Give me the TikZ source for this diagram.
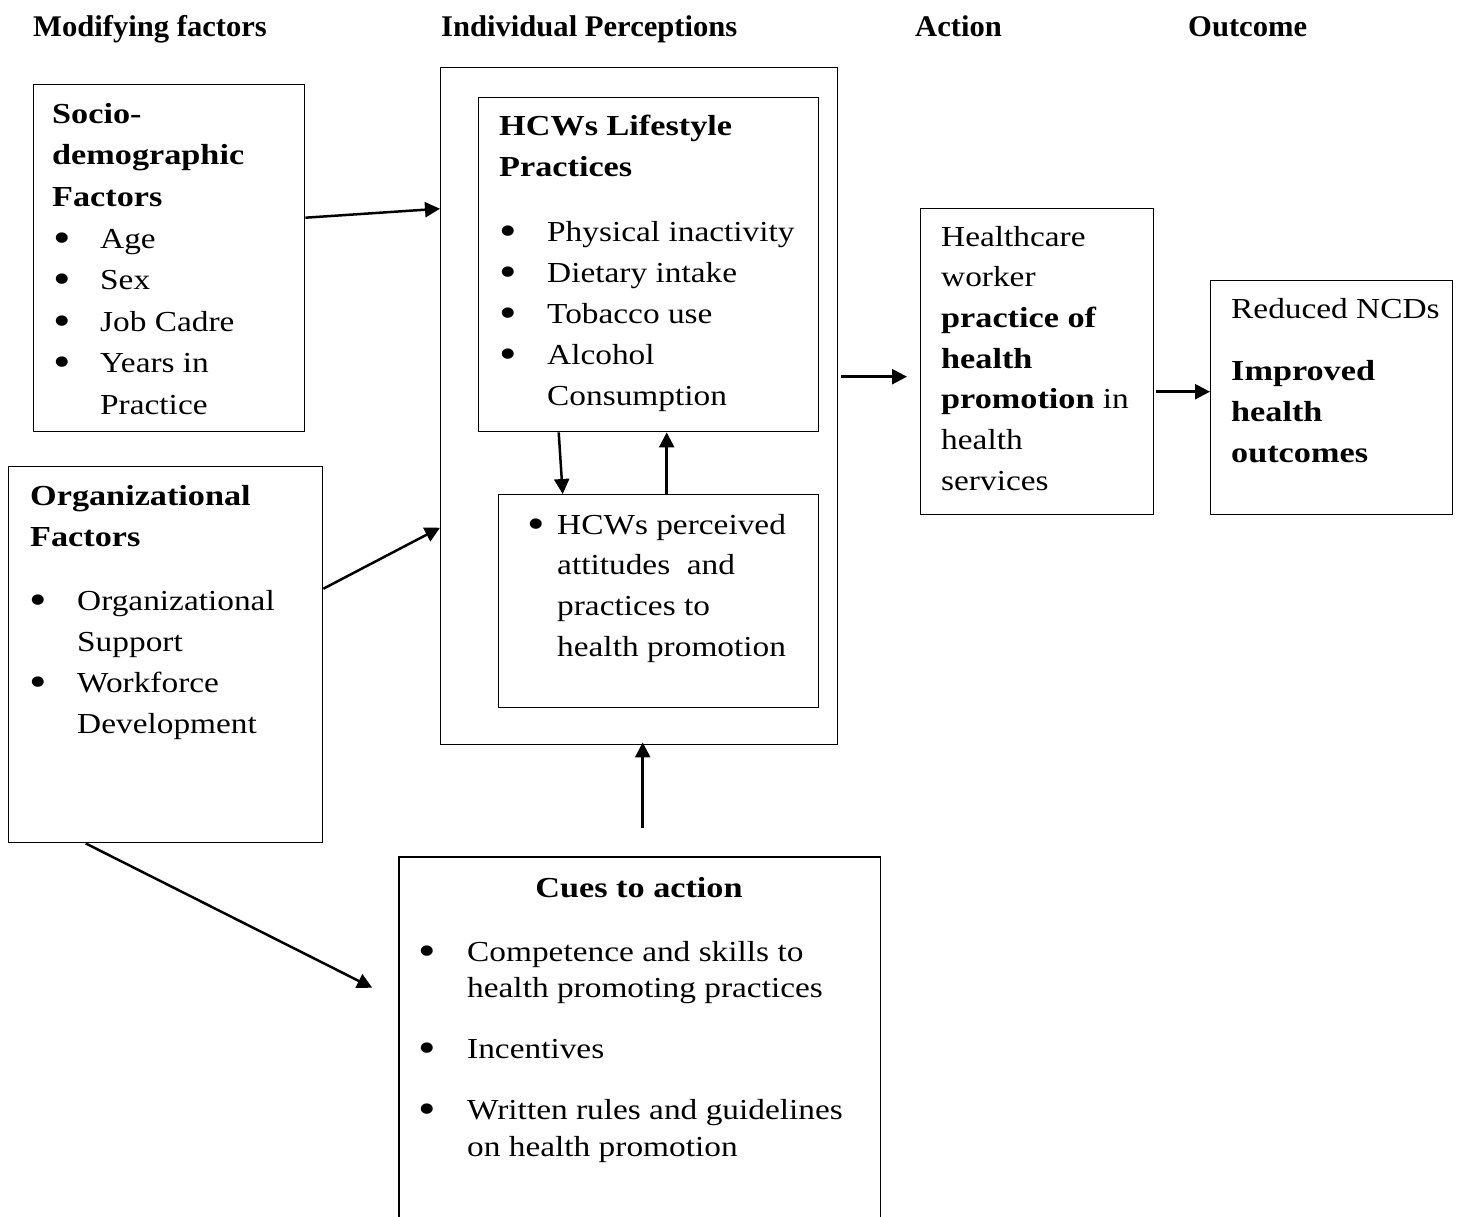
\documentclass[tikz,border=0pt]{standalone}
\usepackage{fontspec}
\setmainfont{Liberation Serif}[FakeStretch=1.15, BoldFeatures={FakeStretch=1.18}]
\newfontfamily\headfont{Liberation Serif}[BoldFeatures={FakeStretch=1.02}]
\usetikzlibrary{arrows.meta}

\newcommand{\hbul}[2]{\hspace*{#1}\makebox[#2][l]{\smash{\raisebox{-4pt}{\scalebox{1.5}{\textbullet}}}}}

\tikzset{
  box/.style={draw, line width=1.4pt, inner sep=0pt, anchor=north west},
  txt/.style={anchor=north west, inner sep=0pt, align=left, font=\fontsize{29}{41}\selectfont},
  head/.style={anchor=base west, inner sep=0pt, font=\fontsize{30}{34}\selectfont\headfont\bfseries},
  link/.style={-{Triangle[length=15pt,width=15pt]}, line width=2.5pt},
}

\begin{document}
\begin{tikzpicture}[x=1pt, y=-1pt]
\useasboundingbox (0,0) rectangle (1458,1217);

% column headings
\node[head] (hmod) at (33,37) {Modifying factors};
\node[head] (hind) at (441,37) {Individual Perceptions};
\node[head] (hact) at (915,37) {Action};
\node[head] (hout) at (1188,37) {Outcome};

% boxes
\node[box, minimum width=271pt, minimum height=347pt] (socio) at (33,84) {};
\node[box, minimum width=314pt, minimum height=376pt] (org) at (8,466) {};
\node[box, minimum width=397pt, minimum height=677pt] (indiv) at (440,67) {};
\node[box, minimum width=340pt, minimum height=334pt] (life) at (478,97) {};
\node[box, minimum width=320pt, minimum height=213pt] (att) at (498,494) {};
\node[box, minimum width=233pt, minimum height=306pt] (action) at (920,208) {};
\node[box, minimum width=242pt, minimum height=234pt] (outcome) at (1210,280) {};
\node[box, draw=none, minimum width=480pt, minimum height=360pt] (cues) at (399,857) {};
\draw[line width=1.4pt] (cues.south west) |- (cues.north east) -- (cues.south east);

% texts
\node[txt, font=\fontsize{29}{41.6}\selectfont] (sociotxt) at (52,93.9) {\strut\textbf{Socio-}\\
  \textbf{demographic}\\ \textbf{Factors}\\
  \hbul{1pt}{47pt}Age\\ \hbul{1pt}{47pt}Sex\\ \hbul{1pt}{47pt}Job Cadre\\
  \hbul{1pt}{47pt}Years in\\ \hspace*{48pt}Practice};
\node[txt] (orgtxt) at (30,476.3) {\strut\textbf{Organizational}\\ \textbf{Factors}\\[23pt]
  \hbul{-1pt}{48pt}Organizational\\ \hspace*{47pt}Support\\
  \hbul{-1pt}{48pt}Workforce\\ \hspace*{47pt}Development};
\node[txt] (lifetxt) at (499,106.3) {\strut\textbf{HCWs Lifestyle}\\ \textbf{Practices}\\[24pt]
  \hbul{0pt}{48pt}Physical inactivity\\ \hbul{0pt}{48pt}Dietary intake\\
  \hbul{0pt}{48pt}Tobacco use\\ \hbul{0pt}{48pt}Alcohol\\ \hspace*{48pt}Consumption};
\node[txt, font=\fontsize{29}{40.7}\selectfont] (atttxt) at (530,505.5) {\strut\hbul{-3pt}{30pt}HCWs perceived\\
  \hspace*{27pt}attitudes\ \ and\\ \hspace*{27pt}practices to\\ \hspace*{27pt}health promotion};
\node[txt, font=\fontsize{29}{40.7}\selectfont] (actiontxt) at (941,217.5) {\strut Healthcare\\ worker\\
  \textbf{practice of}\\ \textbf{health}\\ \textbf{promotion} in\\ health\\ services};
\node[txt] (outcometxt) at (1231,289.3) {\strut Reduced NCDs\\[21pt]
  \textbf{Improved}\\ \textbf{health}\\ \textbf{outcomes}};
\node[anchor=base, inner sep=0pt, font=\fontsize{29}{36}\selectfont\bfseries] (cuestitle) at (639,897) {Cues to action};
\node[txt, font=\fontsize{29}{36.5}\selectfont] (cuestxt) at (421,935.5) {\strut\hbul{-3pt}{49pt}Competence and skills to\\
  \hspace*{46pt}health promoting practices\\[24.5pt]
  \hbul{-3pt}{49pt}Incentives\\[24.5pt]
  \hbul{-3pt}{49pt}Written rules and guidelines\\ \hspace*{46pt}on health promotion};

% arrows
\draw[link] ([yshift=40.5pt]socio.east) -- ([yshift=197.5pt]indiv.west);
\draw[link] ([yshift=66pt]org.east) -- ([yshift=-121.5pt]indiv.west);
\draw[link] ([xshift=-90pt]life.south) -- ([xshift=-96pt]att.north);
\draw[link] ([xshift=8pt]att.north) -- ([xshift=18pt]life.south);
\draw[link, shorten <=3pt, shorten >=13pt] ([yshift=29.5pt]indiv.east) -- ([yshift=-15pt]action.west);
\draw[link, shorten <=2pt] ([yshift=-30pt]action.east) -- ([yshift=6pt]outcome.west);
\draw[link, shorten <=29pt, shorten >=-3pt] ([xshift=3pt]cues.north) -- ([xshift=3.5pt]indiv.south);
\draw[link, shorten >=30pt] ([xshift=-80pt]org.south) -- ([yshift=36.5pt]cues.west);
\end{tikzpicture}
\end{document}
